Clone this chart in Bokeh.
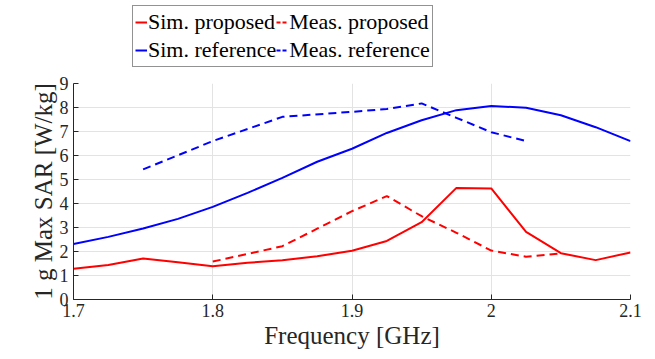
from bokeh.plotting import figure
from bokeh.models import Range1d, FixedTicker, Legend, LegendItem
from bokeh.layouts import column
from bokeh.embed import file_html
from bokeh.resources import INLINE

freq_full = [1.7, 1.725, 1.75, 1.775, 1.8, 1.825, 1.85, 1.875, 1.9, 1.925, 1.95, 1.975, 2.0, 2.025, 2.05, 2.075, 2.1]
sim_proposed = [1.28, 1.44, 1.71, 1.55, 1.39, 1.53, 1.64, 1.80, 2.03, 2.44, 3.22, 4.65, 4.63, 2.82, 1.93, 1.64, 1.96]
sim_reference = [2.31, 2.61, 2.96, 3.36, 3.86, 4.44, 5.07, 5.74, 6.28, 6.94, 7.47, 7.89, 8.06, 7.99, 7.68, 7.18, 6.60]

freq_meas_prop = [1.8, 1.85, 1.875, 1.9, 1.925, 1.95, 1.975, 2.0, 2.025, 2.05]
meas_proposed = [1.58, 2.22, 2.95, 3.68, 4.31, 3.47, 2.78, 2.04, 1.78, 1.92]

freq_meas_ref = [1.75, 1.8, 1.85, 1.9, 1.925, 1.95, 1.975, 2.0, 2.025]
meas_reference = [5.42, 6.60, 7.61, 7.82, 7.94, 8.17, 7.57, 6.97, 6.60]

x_ticks = [1.7, 1.8, 1.9, 2.0, 2.1]
x_tick_labels = ["1.7", "1.8", "1.9", "2", "2.1"]
y_ticks = list(range(0, 10))

series_labels = ["Sim. proposed", "Meas. proposed", "Sim. reference", "Meas. reference"]
series_colors = ["#ff0000", "#ff0000", "#0000ff", "#0000ff"]
series_dash = ["solid", "8 5", "solid", "8 5"]
legend_dash = ["solid", "4 2", "solid", "4 2"]

FONT = "Liberation Serif"

xs = [freq_full, freq_meas_prop, freq_full, freq_meas_ref]
ys = [sim_proposed, meas_proposed, sim_reference, meas_reference]

# main plot
p = figure(width=655, height=286, output_backend="svg", toolbar_location=None,
           x_range=Range1d(1.7, 2.1), y_range=Range1d(0, 9),
           min_border_left=73, min_border_right=25, min_border_top=10, min_border_bottom=60)
p.outline_line_color = None
p.background_fill_color = "white"

for ax in (p.xaxis[0], p.yaxis[0]):
    ax.axis_line_color = "#262626"
    ax.axis_line_width = 1
    ax.major_tick_in = 5
    ax.major_tick_out = 0
    ax.minor_tick_in = 0
    ax.minor_tick_out = 0
    ax.major_tick_line_color = "#262626"
    ax.major_label_text_font = FONT
    ax.major_label_text_font_size = "18px"
    ax.major_label_text_color = "#262626"
    ax.axis_label_text_font = FONT
    ax.axis_label_text_font_size = "25px"
    ax.axis_label_text_font_style = "normal"
    ax.axis_label_text_color = "#262626"

p.xaxis.ticker = FixedTicker(ticks=x_ticks)
p.xaxis.major_label_overrides = {t: l for t, l in zip(x_ticks, x_tick_labels)}
p.yaxis.ticker = FixedTicker(ticks=y_ticks)
p.xaxis.axis_label = "Frequency [GHz]"
p.yaxis.axis_label = "1 g Max SAR [W/kg]"
p.xaxis.major_label_standoff = 4
p.yaxis.major_label_standoff = 5
p.xaxis.axis_label_standoff = 2
p.yaxis.axis_label_standoff = 0

p.xgrid.ticker = FixedTicker(ticks=x_ticks)
p.ygrid.ticker = FixedTicker(ticks=y_ticks)
p.grid.grid_line_color = "#e3e3e3"
p.grid.grid_line_width = 1

for x, y, c, d in zip(xs, ys, series_colors, series_dash):
    p.line(x, y, line_color=c, line_width=2, line_dash=d)

# legend strip above the plot (its lines fall outside this strip's range)
top = figure(width=655, height=73, output_backend="svg", toolbar_location=None,
             x_range=Range1d(0, 1), y_range=Range1d(0, 1),
             min_border=0, x_axis_location=None, y_axis_location=None)
top.outline_line_color = None
top.grid.visible = False
items = {}
for lab, x, y, c, d in zip(series_labels, xs, ys, series_colors, legend_dash):
    r = top.line(x, y, line_color=c, line_width=2, line_dash=d)
    items[lab] = LegendItem(label=lab, renderers=[r])

order = ["Sim. proposed", "Sim. reference", "Meas. proposed", "Meas. reference"]
legend = Legend(items=[items[k] for k in order], ncols=2, location=(59, 6))
legend.label_text_font = FONT
legend.label_text_font_size = "22px"
legend.label_text_color = "black"
legend.glyph_width = 12
legend.glyph_height = 28
legend.label_height = 28
legend.label_standoff = 1
legend.spacing = 0
legend.padding = 2
legend.margin = 0
legend.border_line_color = "#262626"
legend.border_line_width = 1
legend.background_fill_alpha = 1
top.add_layout(legend, "center")

layout = column(top, p, spacing=0)
open("out.html", "w").write(file_html(layout, INLINE))
